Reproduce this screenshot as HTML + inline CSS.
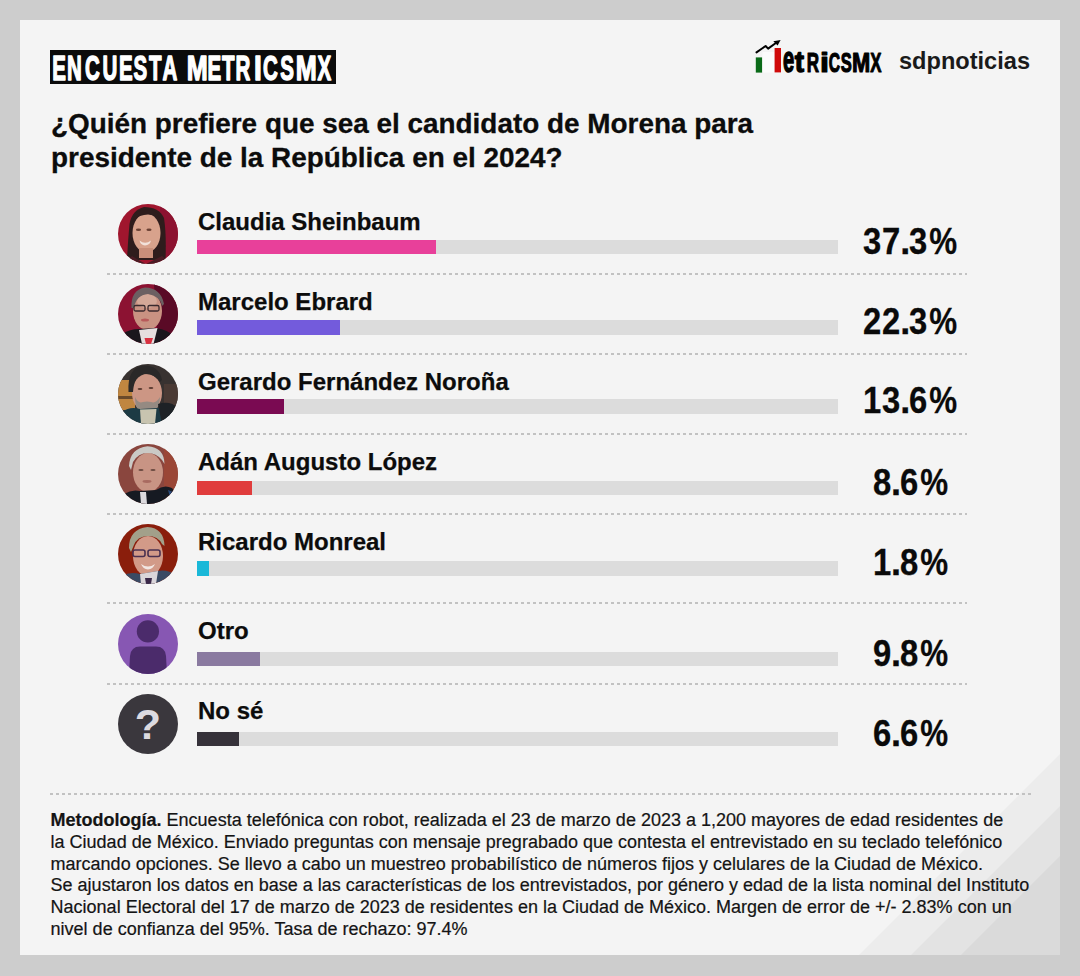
<!DOCTYPE html>
<html><head><meta charset="utf-8">
<style>
*{margin:0;padding:0;box-sizing:border-box}
html,body{width:1080px;height:976px;overflow:hidden;background:#cdcdcd;font-family:"Liberation Sans",sans-serif;color:#111}
#panel{position:absolute;left:20px;top:20px;width:1040px;height:935px;background:#f4f4f4;overflow:hidden}
.hdrbox{position:absolute;left:50px;top:50px;width:286px;height:34px;background:#0b0b0b}
.title{position:absolute;left:51px;top:106.7px;font-size:27.9px;line-height:34px;font-weight:bold;color:#0c0c0c;-webkit-text-stroke:0.3px #0c0c0c;white-space:nowrap}
.name{position:absolute;left:198px;font-size:24px;line-height:24px;font-weight:bold;color:#0c0c0c;-webkit-text-stroke:0.25px #0c0c0c;white-space:nowrap}
.track{position:absolute;left:197px;width:640.5px;height:14.5px;background:#dcdcdc}
.fill{position:absolute;left:0;top:0;height:100%}
.pct{position:absolute;left:811.2px;width:200px;text-align:center;font-size:36px;line-height:36px;font-weight:bold;color:#0a0a0a;-webkit-text-stroke:0.3px #0a0a0a;letter-spacing:-0.8px;text-indent:-0.8px;white-space:nowrap}
.sep{position:absolute;left:106.5px;width:860px;height:2px;background-image:linear-gradient(to right,#c2c2c2 0,#c2c2c2 3px,transparent 3px);background-size:6px 2px}
.av{position:absolute;left:117.6px;width:60px;height:60px}
.pct i{font-style:normal;display:inline-block;transform:scaleX(0.91)}
.meth{position:absolute;left:50.6px;top:810.4px;font-size:18px;line-height:21.65px;color:#141414;-webkit-text-stroke:0.2px #141414;white-space:nowrap}
svg{position:absolute;overflow:visible}
</style></head><body>
<div id="panel"></div>
<svg style="left:20px;top:20px" width="1040" height="935" viewBox="20 20 1040 935">
  <polygon points="859,955 1060,754 1060,955" fill="#ececec"/>
  <polygon points="911,955 1060,806 1060,955" fill="#e3e3e3"/>
  <polygon points="961,955 1060,856 1060,955" fill="#dadada"/>
</svg>
<div class="hdrbox"></div>
<svg style="left:0;top:0" width="1080" height="120">
 <g font-family="Liberation Sans" font-weight="bold" font-size="36" fill="#fff" stroke="#fff" stroke-width="1.5" stroke-linejoin="round" text-anchor="middle"><text transform="translate(59.01,80.2) scale(0.570,1)">E</text><text transform="translate(74.46,80.2) scale(0.570,1)">N</text><text transform="translate(92.51,80.2) scale(0.570,1)">C</text><text transform="translate(110.01,80.2) scale(0.570,1)">U</text><text transform="translate(125.86,80.2) scale(0.570,1)">E</text><text transform="translate(140.36,80.2) scale(0.570,1)">S</text><text transform="translate(155.24,80.2) scale(0.570,1)">T</text><text transform="translate(169.87,80.2) scale(0.570,1)">A</text><text transform="translate(197.25,80.2) scale(0.700,1)">M</text><text transform="translate(214.41,80.2) scale(0.570,1)">E</text><text transform="translate(228.34,80.2) scale(0.570,1)">T</text><text transform="translate(242.97,80.2) scale(0.570,1)">R</text><text transform="translate(257.80,80.2) scale(0.780,1)">I</text><text transform="translate(270.41,80.2) scale(0.570,1)">C</text><text transform="translate(287.06,80.2) scale(0.570,1)">S</text><text transform="translate(306.15,80.2) scale(0.700,1)">M</text><text transform="translate(324.35,80.2) scale(0.570,1)">X</text></g>
 <rect x="755.8" y="57.4" width="6.4" height="15.2" fill="#0a6a18"/>
 <rect x="762.4" y="52" width="12" height="20.6" fill="#fbfbfb"/>
 <rect x="774.6" y="48" width="6.4" height="24.4" fill="#d00a0a"/>
 <polyline points="756.5,52.4 765.6,46 768.1,48.6 776.2,42.8" fill="none" stroke="#000" stroke-width="2" stroke-linejoin="round" stroke-linecap="round"/>
 <polygon points="773.3,41.2 780.6,40 777.6,45.6" fill="#000"/>
 <g font-family="Liberation Sans" font-weight="bold" font-size="28" fill="#000" stroke="#000" stroke-width="1.2" stroke-linejoin="round" text-anchor="middle"><text transform="translate(788.7,72.3) scale(0.72,1.3)">e</text><text transform="translate(799.5,72.3) scale(1.0,1.08)">t</text><text transform="translate(812.9,72.3) scale(0.61,1)">R</text><text transform="translate(824.5,72.3) scale(1.15,1)">i</text><text transform="translate(834.5,72.3) scale(0.56,1)">C</text><text transform="translate(846.3,72.3) scale(0.59,1)">S</text><text transform="translate(861,72.3) scale(0.78,1)">M</text><text transform="translate(875.8,72.3) scale(0.6,1)">X</text></g>
 <text x="899" y="68.5" font-family="Liberation Sans" font-weight="bold" font-size="24" fill="#1a1a1a" textLength="131" lengthAdjust="spacingAndGlyphs">sdpnoticias</text>
</svg>
<div class="title">¿Quién prefiere que sea el candidato de Morena para<br>presidente de la República en el 2024?</div>

<svg class="av" style="top:203.8px" width="60" height="60" viewBox="0 0 60 60"><defs><clipPath id="c0"><circle cx="30" cy="30" r="30"/></clipPath></defs><g clip-path="url(#c0)">
<rect width="60" height="60" fill="#a0162e"/>
<rect x="42" width="18" height="60" fill="#8c1230"/>
<path d="M9 56 Q10 36 11.5 20 Q14 6 26 3 Q41 3 46 14 Q48.5 30 47.5 56 Z" fill="#2e1c1c"/>
<ellipse cx="28.5" cy="29" rx="14" ry="19.5" fill="#d8a28c"/>
<path d="M14.5 18 Q17 6 27 5 Q39 5 42 14 Q32 8 22 12 Q17 14 14.5 18Z" fill="#2e1c1c"/>
<ellipse cx="20.5" cy="25.8" rx="2.6" ry="1.3" fill="#6a4034"/>
<ellipse cx="31" cy="25.8" rx="2.6" ry="1.3" fill="#6a4034"/>
<path d="M21.5 36.5 Q27 41 33 36.5 Q32 41 27 41.5 Q22.5 41 21.5 36.5Z" fill="#f2e2da"/>
<rect x="21" y="44" width="14" height="10" fill="#c98f7a"/>
<path d="M6 60 L14 52 Q20 56 28 60 Q36 56 44 52 L54 60 Z" fill="#4a1c24"/>
</g></svg>
<div class="name" style="top:210.0px">Claudia Sheinbaum</div>
<div class="track" style="top:239.8px"><div class="fill" style="width:37.3%;background:#e8409a"></div></div>
<div class="pct" style="top:223.7px"><i>3</i><i>7</i>.<i>3</i><span style="display:inline-block;transform:scaleX(0.87)">%</span></div>
<div class="sep" style="top:272.5px"></div>
<svg class="av" style="top:283.6px" width="60" height="60" viewBox="0 0 60 60"><defs><clipPath id="c1"><circle cx="30" cy="30" r="30"/></clipPath></defs><g clip-path="url(#c1)">
<rect width="60" height="60" fill="#8c1232"/>
<path d="M36 0 L60 0 L60 60 L40 60 Z" fill="#5a0a26"/>
<ellipse cx="29.5" cy="27" rx="14.5" ry="19" fill="#c99282"/>
<ellipse cx="29" cy="17" rx="10" ry="7" fill="#d4a898"/>
<path d="M13.5 24 Q12.5 6 27 3.5 Q43 4 46 20 L44 22 Q42 12 30 10 Q18 11 16 24 Z" fill="#6c6062"/>
<rect x="16" y="21.5" width="11" height="5.5" rx="1.5" fill="none" stroke="#3a2a2e" stroke-width="1.3"/><rect x="30" y="21.5" width="11" height="5.5" rx="1.5" fill="none" stroke="#3a2a2e" stroke-width="1.3"/>
<ellipse cx="27" cy="36" rx="4" ry="1.5" fill="#b85a5a"/>
<path d="M0 60 L4 50 Q12 45 21 45 L38 44 Q50 46 56 52 L60 60 Z" fill="#1a161c"/>
<path d="M21 46 L39.5 44 L35.5 60 L24 60 Z" fill="#e6dede"/>
<path d="M26.5 54 L35 54 L33 60 L28 60Z" fill="#d83040"/>
</g></svg>
<div class="name" style="top:290.0px">Marcelo Ebrard</div>
<div class="track" style="top:320.2px"><div class="fill" style="width:22.3%;background:#735bdc"></div></div>
<div class="pct" style="top:304.1px"><i>2</i><i>2</i>.<i>3</i><span style="display:inline-block;transform:scaleX(0.87)">%</span></div>
<div class="sep" style="top:352.5px"></div>
<svg class="av" style="top:363.5px" width="60" height="60" viewBox="0 0 60 60"><defs><clipPath id="c2"><circle cx="30" cy="30" r="30"/></clipPath></defs><g clip-path="url(#c2)">
<rect width="60" height="60" fill="#383230"/>
<rect x="0" y="16" width="17" height="30" fill="#c08640"/>
<rect x="0" y="32" width="17" height="3" fill="#6a4a2a"/>
<rect x="46" y="20" width="14" height="30" fill="#4a3a34"/>
<ellipse cx="29" cy="29" rx="15" ry="19" fill="#cc9684"/>
<path d="M10.5 28 Q9 4 25 1.5 Q41 1 44 16 L42 18 Q36 9 26 10 Q16 12 15 28 Z" fill="#2a2828"/>
<ellipse cx="22" cy="25" rx="2.4" ry="1.1" fill="#5a3a30"/>
<ellipse cx="33" cy="24" rx="2.4" ry="1.1" fill="#5a3a30"/>
<path d="M17 33 Q17 50 29 49.5 Q41 50 42 33 Q38 40 33 38 Q29 37 25 38 Q20 40 17 33Z" fill="#958a82"/>
<path d="M0 60 L4 48 Q12 42 22 45 L40 44 Q50 40 60 46 L60 60 Z" fill="#1c3a44"/>
<path d="M40 40 Q52 36 60 44 L60 60 L44 60Z" fill="#1e2226"/>
<path d="M22 45.5 L38.5 45 L37 60 L23 60 Z" fill="#c8c4b0"/>
</g></svg>
<div class="name" style="top:370.4px">Gerardo Fernández Noroña</div>
<div class="track" style="top:399.4px"><div class="fill" style="width:13.6%;background:#7a0a52"></div></div>
<div class="pct" style="top:383.3px"><i>1</i><i>3</i>.<i>6</i><span style="display:inline-block;transform:scaleX(0.87)">%</span></div>
<div class="sep" style="top:432.5px"></div>
<svg class="av" style="top:443.7px" width="60" height="60" viewBox="0 0 60 60"><defs><clipPath id="c3"><circle cx="30" cy="30" r="30"/></clipPath></defs><g clip-path="url(#c3)">
<rect width="60" height="60" fill="#8a463e"/>
<rect x="46" y="0" width="14" height="60" fill="#9a4636"/>
<ellipse cx="30" cy="28.5" rx="15" ry="19.5" fill="#c89484"/>
<path d="M11 22 Q12 4 29.5 2.2 Q46 3 46.5 20 L44 16 Q38 9 30 9 Q20 9 15 18 L13 26 Z" fill="#cacac6"/>
<ellipse cx="23" cy="26" rx="2.6" ry="1.1" fill="#6a4a40"/>
<ellipse cx="35" cy="26" rx="2.6" ry="1.1" fill="#6a4a40"/>
<ellipse cx="29" cy="37.5" rx="4.5" ry="1.4" fill="#a86a60"/>
<path d="M0 60 L6 50 Q14 45 22 47 L38 46 Q46 40 54 44 L60 52 L60 60 Z" fill="#161a22"/>
<path d="M50 46 L60 50 L60 60 L54 60Z" fill="#2a4a7a"/>
<path d="M22 48 L28 48 L29 60 L23 60 Z" fill="#dcdade"/>
</g></svg>
<div class="name" style="top:449.8px">Adán Augusto López</div>
<div class="track" style="top:480.7px"><div class="fill" style="width:8.6%;background:#e03c3c"></div></div>
<div class="pct" style="top:464.6px"><i>8</i>.<i>6</i><span style="display:inline-block;transform:scaleX(0.87)">%</span></div>
<div class="sep" style="top:512.8px"></div>
<svg class="av" style="top:524.0px" width="60" height="60" viewBox="0 0 60 60"><defs><clipPath id="c4"><circle cx="30" cy="30" r="30"/></clipPath></defs><g clip-path="url(#c4)">
<rect width="60" height="60" fill="#8a1e0c"/>
<ellipse cx="30" cy="32" rx="15" ry="20" fill="#d29a88"/>
<path d="M11 24 Q11 5 29.5 3 Q46 4 46.5 22 L44 20 Q40 12 30 12 Q19 12 15.5 22 L13 28 Z" fill="#a2a08a"/>
<rect x="15" y="26" width="12" height="6.5" rx="2" fill="none" stroke="#4a3050" stroke-width="1.6"/>
<rect x="30" y="26" width="12" height="6.5" rx="2" fill="none" stroke="#4a3050" stroke-width="1.6"/>
<path d="M23 40 Q30 45 37 40 Q35 45 30 45.5 Q25 45 23 40Z" fill="#f2e6e2"/>
<path d="M0 60 L4 52 Q12 47 22 50 L40 47 Q50 45 58 52 L60 60 Z" fill="#3a4a64"/>
<path d="M22 50 L40 47 L38 60 L23 60 Z" fill="#dad6da"/>
<path d="M27 54 L34 54 L33 60 L28 60Z" fill="#3a2848"/>
</g></svg>
<div class="name" style="top:529.5px">Ricardo Monreal</div>
<div class="track" style="top:561.1px"><div class="fill" style="width:1.8%;background:#1ab8d8"></div></div>
<div class="pct" style="top:545.0px"><i>1</i>.<i>8</i><span style="display:inline-block;transform:scaleX(0.87)">%</span></div>
<div class="sep" style="top:601.8px"></div>
<svg class="av" style="top:613.6px" width="60" height="60" viewBox="0 0 60 60"><defs><clipPath id="c5"><circle cx="30" cy="30" r="30"/></clipPath></defs><g clip-path="url(#c5)">
<rect width="60" height="60" fill="#8757b3"/>
<circle cx="29.9" cy="17.4" r="11.1" fill="#4b2b6b"/>
<path d="M11 60 L12 42 Q13 32.5 22 32.5 L38 32.5 Q47 32.5 48 42 L49 60 Z" fill="#4b2b6b"/>
</g></svg>
<div class="name" style="top:619.0px">Otro</div>
<div class="track" style="top:651.6px"><div class="fill" style="width:9.8%;background:#8a7aa0"></div></div>
<div class="pct" style="top:635.5px"><i>9</i>.<i>8</i><span style="display:inline-block;transform:scaleX(0.87)">%</span></div>
<div class="sep" style="top:682.7px"></div>
<svg class="av" style="top:693.6px" width="60" height="60" viewBox="0 0 60 60"><defs><clipPath id="c6"><circle cx="30" cy="30" r="30"/></clipPath></defs><g clip-path="url(#c6)">
<rect width="60" height="60" fill="#3a373d"/>
<text x="30" y="45.4" text-anchor="middle" font-family="Liberation Sans" font-weight="bold" font-size="43" fill="#dcdae0">?</text>
</g></svg>
<div class="name" style="top:699.4px">No sé</div>
<div class="track" style="top:731.7px"><div class="fill" style="width:6.6%;background:#36323a"></div></div>
<div class="pct" style="top:715.6px"><i>6</i>.<i>6</i><span style="display:inline-block;transform:scaleX(0.87)">%</span></div>
<div class="sep" style="top:792.5px;left:50px;width:982px"></div>
<div class="meth"><b>Metodología.</b> Encuesta telefónica con robot, realizada el 23 de marzo de 2023 a 1,200 mayores de edad residentes de<br>la Ciudad de México. Enviado preguntas con mensaje pregrabado que contesta el entrevistado en su teclado telefónico<br>marcando opciones. Se llevo a cabo un muestreo probabilístico de números fijos y celulares de la Ciudad de México.<br>Se ajustaron los datos en base a las características de los entrevistados, por género y edad de la lista nominal del Instituto<br>Nacional Electoral del 17 de marzo de 2023 de residentes en la Ciudad de México. Margen de error de +/- 2.83% con un<br>nivel de confianza del 95%. Tasa de rechazo: 97.4%</div>
</body></html>
